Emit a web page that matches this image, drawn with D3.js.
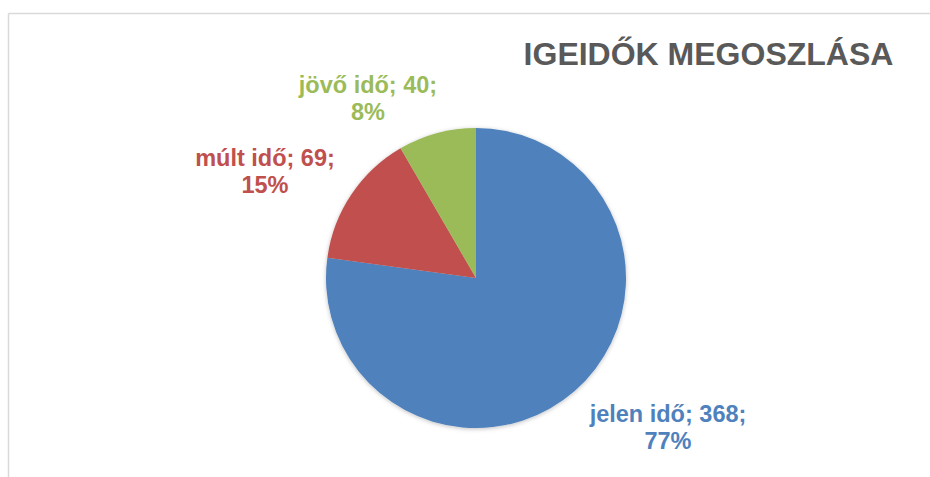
<!DOCTYPE html>
<html><head><meta charset="utf-8">
<script src="https://cdn.jsdelivr.net/npm/d3@7"></script>
<style>body{margin:0;background:#fff}svg{display:block}</style>
</head><body>
<svg id="c" width="930" height="477"></svg>
<script>
const categories = ["jelen idő", "múlt idő", "jövő idő"];
const values = [368, 69, 40];
const percents = ["77%", "15%", "8%"];
const colors = ["#4F81BD", "#C0504D", "#9BBB59"];
const title = "IGEIDŐK MEGOSZLÁSA";

const svg = d3.select("#c");
const font = "'Liberation Sans', Arial, sans-serif";

// chart border (top and left visible)
svg.append("line").attr("x1",8.5).attr("y1",13.5).attr("x2",930).attr("y2",13.5).attr("stroke","#d9d9d9").attr("stroke-width",1.5);
svg.append("line").attr("x1",8.5).attr("y1",13.5).attr("x2",8.5).attr("y2",477).attr("stroke","#d9d9d9").attr("stroke-width",1.5);

svg.append("text").attr("x",708.5).attr("y",65).attr("text-anchor","middle")
  .attr("font-family",font).attr("font-weight","bold").attr("font-size",32)
  .attr("fill","#595959").text(title);

const defs = svg.append("defs");
const f = defs.append("filter").attr("id","sh").attr("x","-20%").attr("y","-20%").attr("width","140%").attr("height","140%");
f.append("feDropShadow").attr("dx",0).attr("dy",1).attr("stdDeviation",2).attr("flood-color","#000").attr("flood-opacity",0.25);

const cx = 476, cy = 278, r = 150;
const pie = d3.pie().sort(null).value(d=>d)(values);
const arc = d3.arc().innerRadius(0).outerRadius(r);
const g = svg.append("g").attr("transform",`translate(${cx},${cy})`).attr("filter","url(#sh)");
g.selectAll("path").data(pie).join("path").attr("d",arc).attr("fill",(d,i)=>colors[i]);

const labelPos = [[668,422],[265,166],[368,93]];
categories.forEach((c,i)=>{
  const t = svg.append("text").attr("text-anchor","middle").attr("font-family",font)
    .attr("font-weight","bold").attr("font-size",23.5).attr("fill",colors[i]);
  t.append("tspan").attr("x",labelPos[i][0]).attr("y",labelPos[i][1]).text(`${c}; ${values[i]};`);
  t.append("tspan").attr("x",labelPos[i][0]).attr("y",labelPos[i][1]+27).text(percents[i]);
});
</script>
</body></html>
